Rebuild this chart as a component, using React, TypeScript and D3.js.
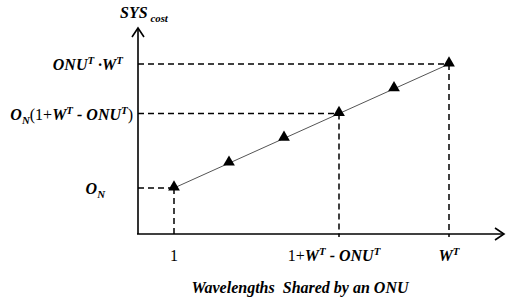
import React from "react";
import * as d3 from "d3";

// abstract cost curve: one point per shared wavelength count
const wavelengths: number[] = [1, 2, 3, 4, 5, 6];
const sysCost: number[] = [1, 2, 3, 4, 5, 6];

// indices of points that get dashed guide lines + tick labels
const guideIdx: number[] = [0, 3, 5];

type Seg = { t: string; it?: boolean; bd?: boolean; pos?: "sup" | "sub" };

const xTickLabels: Seg[][] = [
  [{ t: "1" }],
  [
    { t: "1+" },
    { t: "W", it: true, bd: true },
    { t: "T", it: true, bd: true, pos: "sup" },
    { t: " - ONU", it: true, bd: true },
    { t: "T", it: true, bd: true, pos: "sup" },
  ],
  [
    { t: "W", it: true, bd: true },
    { t: "T", it: true, bd: true, pos: "sup" },
  ],
];
const xLabelShift: number[] = [0, -5, 0];

const yTickLabels: Seg[][] = [
  [
    { t: "O", it: true, bd: true },
    { t: "N", it: true, bd: true, pos: "sub" },
  ],
  [
    { t: "O", it: true, bd: true },
    { t: "N", it: true, bd: true, pos: "sub" },
    { t: "(1+" },
    { t: "W", it: true, bd: true },
    { t: "T", it: true, bd: true, pos: "sup" },
    { t: " - ONU", it: true, bd: true },
    { t: "T", it: true, bd: true, pos: "sup" },
    { t: ")" },
  ],
  [
    { t: "ONU", it: true, bd: true },
    { t: "T", it: true, bd: true, pos: "sup" },
    { t: " ·", it: true, bd: true },
    { t: "W", it: true, bd: true },
    { t: "T", it: true, bd: true, pos: "sup" },
  ],
];
const yLabelRight: number[] = [105, 133, 123];

const yTitle: Seg[] = [
  { t: "SYS", it: true, bd: true },
  { t: " cost", it: true, bd: true, pos: "sub" },
];
const xTitle = "Wavelengths  Shared by an ONU";

const W = 506;
const H = 302;
const originX = 138;
const originY = 234;
const axisTop = 28;
const axisRight = 504;

const FONT = "Liberation Serif, serif";

function Label({ segs, x, y, anchor, size = 16 }: { segs: Seg[]; x: number; y: number; anchor: string; size?: number }) {
  let cur = 0;
  return (
    <text x={x} y={y} textAnchor={anchor} fontFamily={FONT} fontSize={size} fill="#000" style={{ whiteSpace: "pre" }}>
      {segs.map((s, i) => {
        const target = s.pos === "sup" ? -6 : s.pos === "sub" ? 4 : 0;
        const dy = target - cur;
        cur = target;
        return (
          <tspan
            key={i}
            dy={dy}
            fontStyle={s.it ? "italic" : "normal"}
            fontWeight={s.bd ? "bold" : "normal"}
            fontSize={s.pos ? size * 0.68 : size}
          >
            {s.t}
          </tspan>
        );
      })}
    </text>
  );
}

export default function App() {
  const x = d3.scaleLinear().domain([1, 6]).range([174, 449]);
  const y = d3.scaleLinear().domain([1, 6]).range([188, 64]);

  const pts = wavelengths.map((w, i) => [x(w), y(sysCost[i])] as [number, number]);
  const line = d3.line<[number, number]>()(pts) || "";
  const tri = d3.symbol().type(d3.symbolTriangle).size(60)() || "";

  return (
    <svg width={W} height={H} style={{ position: "absolute", left: 0, top: 0, background: "#fff" }}>
      {/* dashed guides */}
      {guideIdx.map((gi) => (
        <g key={gi} stroke="#000" strokeWidth={1.5} strokeDasharray="6,4" fill="none">
          <line x1={originX} x2={pts[gi][0]} y1={pts[gi][1]} y2={pts[gi][1]} />
          <line x1={pts[gi][0]} x2={pts[gi][0]} y1={pts[gi][1]} y2={originY + 3} />
        </g>
      ))}

      {/* axes */}
      <g stroke="#000" strokeWidth={1.6} fill="none">
        <line x1={originX} x2={originX} y1={originY} y2={axisTop} />
        <line x1={originX - 1} x2={axisRight} y1={originY} y2={originY} />
        <path d={`M${originX - 6},${axisTop + 9}L${originX},${axisTop}L${originX + 6},${axisTop + 9}`} />
        <path d={`M${axisRight - 9},${originY - 6}L${axisRight},${originY}L${axisRight - 9},${originY + 6}`} />
      </g>

      {/* cost curve */}
      <path d={line} stroke="#555" strokeWidth={1} fill="none" />
      {pts.map((p, i) => (
        <path key={i} d={tri} transform={`translate(${p[0]},${p[1] - 1})`} fill="#000" />
      ))}

      {/* tick labels */}
      {guideIdx.map((gi, k) => (
        <Label key={"x" + k} segs={xTickLabels[k]} x={pts[gi][0] + xLabelShift[k]} y={261} anchor="middle" />
      ))}
      {guideIdx.map((gi, k) => (
        <Label key={"y" + k} segs={yTickLabels[k]} x={yLabelRight[k]} y={pts[gi][1] + 6} anchor="end" />
      ))}

      <Label segs={yTitle} x={144} y={18} anchor="middle" />
      <text x={300} y={293} textAnchor="middle" fontFamily={FONT} fontSize={16} fontStyle="italic" fontWeight="bold" style={{ whiteSpace: "pre" }}>
        {xTitle}
      </text>
    </svg>
  );
}
